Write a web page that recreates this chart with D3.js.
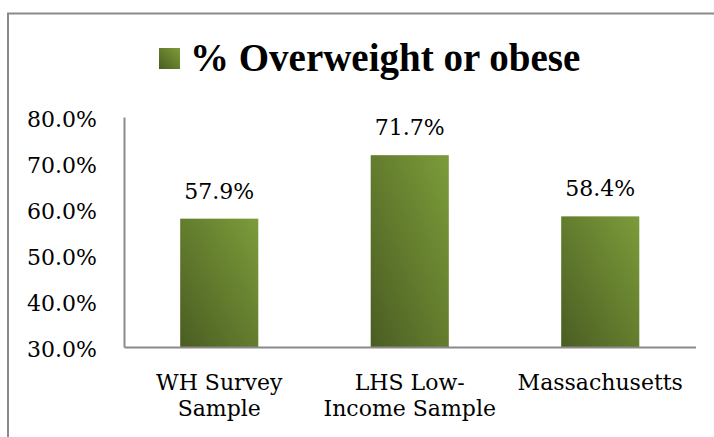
<!DOCTYPE html>
<html lang="en">
<head>
<meta charset="utf-8">
<title>% Overweight or obese</title>
<script src="https://d3js.org/d3.v7.min.js"></script>
<style>
  body { margin: 0; background: #fff; }
</style>
</head>
<body>
<div id="chart"></div>
<script>
// chart data
var categories = ["WH Survey Sample", "LHS Low-Income Sample", "Massachusetts"];
var categoryLines = [["WH Survey", "Sample"], ["LHS Low-", "Income Sample"], ["Massachusetts"]];
var values = [57.9, 71.7, 58.4];
var yTicks = [30, 40, 50, 60, 70, 80];
var seriesName = "% Overweight or obese";

var w = 714, h = 437;
var plotLeft = 124, plotRight = 695.5, plotTop = 117, plotBottom = 347;
var labelFont = "'DejaVu Serif', serif";

var svg = d3.select("#chart").append("svg")
  .attr("width", w)
  .attr("height", h);

// bar gradient, dark bottom-left to lighter top-right
var defs = svg.append("defs");
var grad = defs.append("linearGradient")
  .attr("id", "barGrad")
  .attr("x1", "0").attr("y1", "1")
  .attr("x2", "1").attr("y2", "0");
grad.append("stop").attr("offset", "0%").attr("stop-color", "#4a5d22");
grad.append("stop").attr("offset", "100%").attr("stop-color", "#7c9c3a");

// outer frame
svg.append("rect")
  .attr("x", 8).attr("y", 13.5)
  .attr("width", 720).attr("height", 440)
  .attr("fill", "none")
  .attr("stroke", "#8a8a8a")
  .attr("stroke-width", 2);

// legend / title
svg.append("rect")
  .attr("x", 159).attr("y", 48)
  .attr("width", 21).attr("height", 21)
  .attr("fill", "url(#barGrad)");
svg.append("text")
  .attr("x", 190).attr("y", 71)
  .attr("font-family", "'Liberation Serif', serif")
  .attr("font-weight", "bold")
  .attr("font-size", 39)
  .attr("fill", "#000")
  .text(seriesName);

var x = d3.scaleBand()
  .domain(categories)
  .range([plotLeft, plotRight])
  .paddingInner(0.59)
  .paddingOuter(0.295);

var y = d3.scaleLinear()
  .domain([30, 80])
  .range([plotBottom, plotTop]);

// y axis
var yAxis = d3.axisLeft(y)
  .tickValues(yTicks)
  .tickSize(0)
  .tickPadding(27)
  .tickFormat(function(d) { return d.toFixed(1) + "%"; });

var gy = svg.append("g")
  .attr("transform", "translate(" + plotLeft + ",0)")
  .call(yAxis);
gy.select(".domain").attr("stroke", "#8a8a8a").attr("stroke-width", 2);
gy.selectAll("text")
  .attr("font-family", labelFont)
  .attr("font-size", 22)
  .attr("fill", "#000")
  .attr("dy", "0.42em");

// bars
svg.selectAll(".bar")
  .data(values)
  .enter().append("rect")
    .attr("class", "bar")
    .attr("x", function(d, i) { return x(categories[i]); })
    .attr("y", function(d) { return y(d); })
    .attr("width", x.bandwidth())
    .attr("height", function(d) { return y(30) - y(d); })
    .attr("fill", "url(#barGrad)");

// value labels
svg.selectAll(".val")
  .data(values)
  .enter().append("text")
    .attr("class", "val")
    .attr("x", function(d, i) { return x(categories[i]) + x.bandwidth() / 2; })
    .attr("y", function(d) { return y(d) - 20; })
    .attr("text-anchor", "middle")
    .attr("font-family", labelFont)
    .attr("font-size", 22)
    .attr("fill", "#000")
    .text(function(d) { return d.toFixed(1) + "%"; });

// x axis
var xAxis = d3.axisBottom(x)
  .tickSize(0)
  .tickFormat("");
var gx = svg.append("g")
  .attr("transform", "translate(0," + plotBottom + ")")
  .call(xAxis);
gx.select(".domain").attr("stroke", "#8a8a8a").attr("stroke-width", 2);

// category labels, wrapped like the original
var cat = svg.selectAll(".cat")
  .data(categories)
  .enter().append("text")
    .attr("class", "cat")
    .attr("text-anchor", "middle")
    .attr("font-family", labelFont)
    .attr("font-size", 22)
    .attr("fill", "#000");
cat.each(function(d, i) {
  var t = d3.select(this);
  var cx = x(d) + x.bandwidth() / 2;
  categoryLines[i].forEach(function(line, j) {
    t.append("tspan")
      .attr("x", cx)
      .attr("y", 390 + j * 26)
      .text(line);
  });
});
</script>
</body>
</html>
